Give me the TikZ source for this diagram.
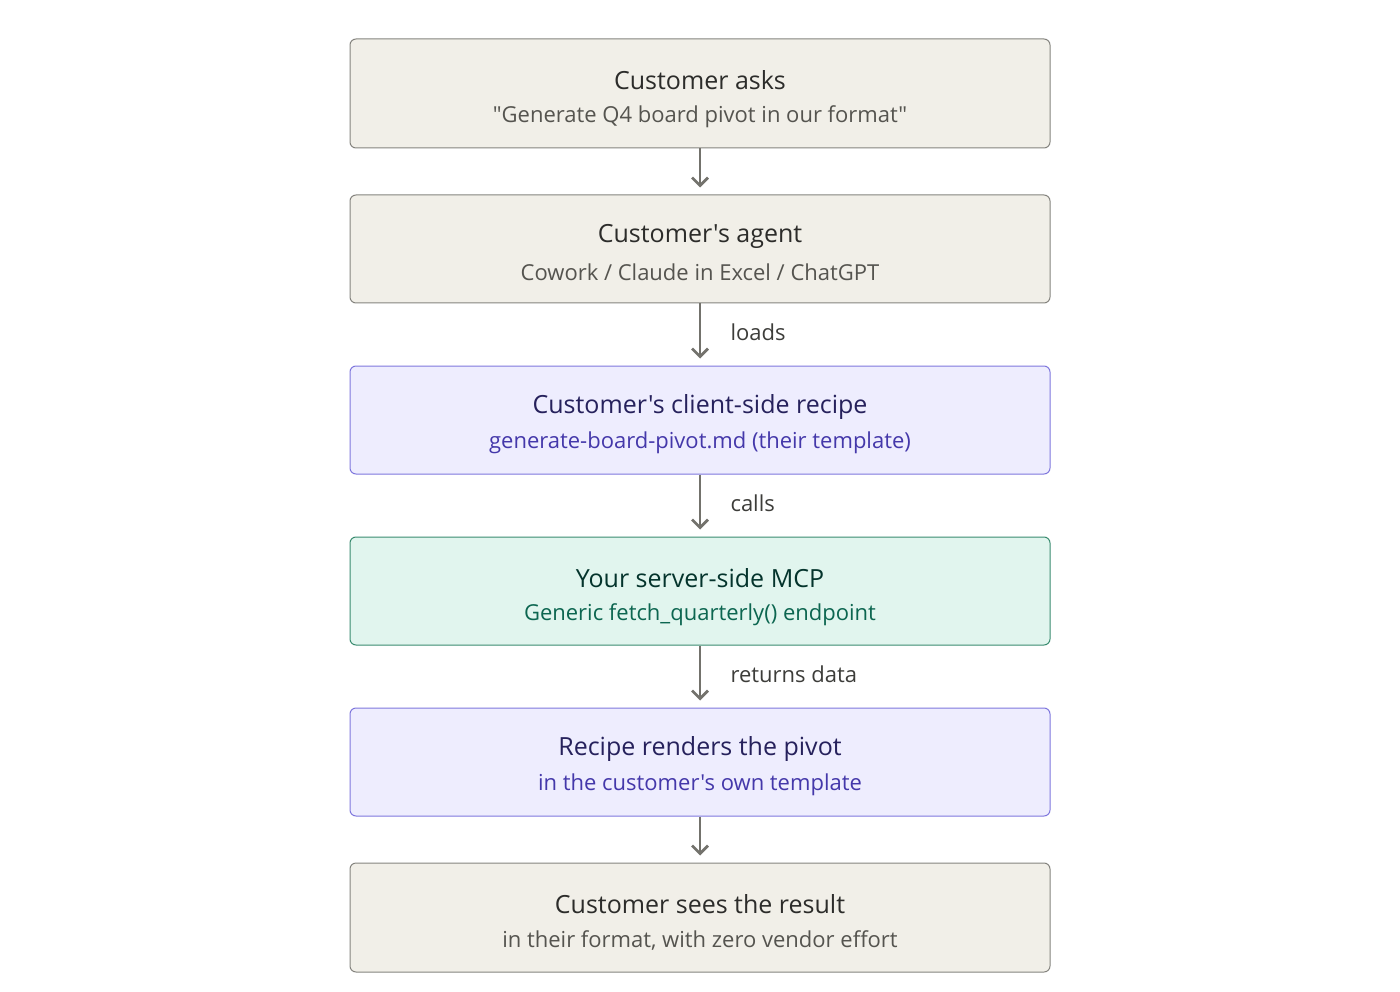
\documentclass[tikz,border=0pt]{standalone}
\usepackage{fontspec}
\setmainfont{Open Sans}[Ligatures=TeXOff]
\usetikzlibrary{arrows.meta}
\definecolor{bgfill}{HTML}{F1EFE8}
\definecolor{bgdraw}{HTML}{85847F}
\definecolor{bgtitle}{HTML}{2C2C2A}
\definecolor{bgsub}{HTML}{55544F}
\definecolor{pufill}{HTML}{EEEDFE}
\definecolor{pudraw}{HTML}{7F77DD}
\definecolor{putitle}{HTML}{26215C}
\definecolor{pusub}{HTML}{4438AA}
\definecolor{grfill}{HTML}{E1F5EE}
\definecolor{grdraw}{HTML}{3A8C70}
\definecolor{grtitle}{HTML}{04342C}
\definecolor{grsub}{HTML}{0C6650}
\definecolor{arrcol}{HTML}{73726C}
\definecolor{lblcol}{HTML}{3D3D3A}
\tikzset{
  boxbase/.style={rectangle, rounded corners=6pt, minimum width=700pt, line width=1pt, inner sep=0pt},
  beigebox/.style={boxbase, fill=bgfill, draw=bgdraw},
  purplebox/.style={boxbase, fill=pufill, draw=pudraw},
  greenbox/.style={boxbase, fill=grfill, draw=grdraw},
  ttl/.style={font=\fontsize{25}{30}\selectfont, anchor=center},
  sub/.style={font=\fontsize{22}{26}\selectfont, anchor=center},
  arr/.style={draw=arrcol, line width=2.8pt, -{Straight Barb[length=8pt, width=16pt, line width=2.8pt]}, shorten >=7pt},
  lbl/.style={font=\fontsize{22}{26}\selectfont, text=lblcol, anchor=west}
}
\begin{document}
\begin{tikzpicture}[x=1pt, y=-1pt]
\useasboundingbox (0,0) rectangle (1400,992);
% boxes
\node[beigebox, minimum height=109pt] (b1) at (700,93.5) {};
\node[beigebox, minimum height=108pt] (b2) at (700,249) {};
\node[purplebox, minimum height=108pt] (b3) at (700,420) {};
\node[greenbox, minimum height=108pt] (b4) at (700,591) {};
\node[purplebox, minimum height=108pt] (b5) at (700,762) {};
\node[beigebox, minimum height=109pt] (b6) at (700,917.5) {};
% texts
\node[ttl, text=bgtitle] (t1) at (700,80) {Customer asks};
\node[sub, text=bgsub] (s1) at (700,117) {"Generate Q4 board pivot in our format"};
\node[ttl, text=bgtitle] (t2) at (700,236) {Customer's agent};
\node[sub, text=bgsub] (s2) at (700,272) {Cowork / Claude in Excel / ChatGPT};
\node[ttl, text=putitle] (t3) at (700,407) {Customer's client-side recipe};
\node[sub, text=pusub] (s3) at (700,443) {generate-board-pivot.md (their template)};
\node[ttl, text=grtitle] (t4) at (700,578) {Your server-side MCP};
\node[sub, text=grsub] (s4) at (700,615) {Generic fetch\_quarterly() endpoint};
\node[ttl, text=putitle] (t5) at (700,749) {Recipe renders the pivot};
\node[sub, text=pusub] (s5) at (700,785) {in the customer's own template};
\node[ttl, text=bgtitle] (t6) at (700,904) {Customer sees the result};
\node[sub, text=bgsub] (s6) at (700,940) {in their format, with zero vendor effort};
% arrows
\draw[arr] (b1.south) -- (b2.north);
\draw[arr] (b2.south) -- (b3.north);
\draw[arr] (b3.south) -- (b4.north);
\draw[arr] (b4.south) -- (b5.north);
\draw[arr] (b5.south) -- (b6.north);
% labels
\node[lbl] (l1) at (727,332) {loads};
\node[lbl] (l2) at (727,503) {calls};
\node[lbl] (l3) at (727,674) {returns data};
\end{tikzpicture}
\end{document}
